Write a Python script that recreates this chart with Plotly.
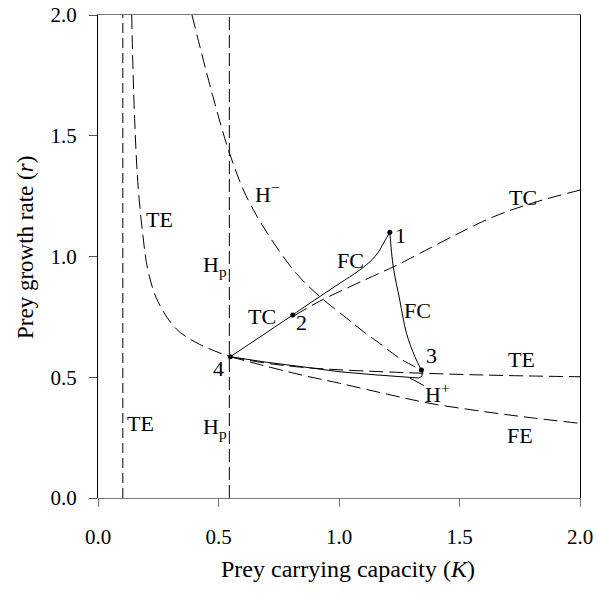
import plotly.graph_objects as go

# ---- data (K = prey carrying capacity, r = prey growth rate) ----
te_vert_K = [0.103, 0.103]
te_vert_r = [0.0, 2.0]

hp_vert_K = [0.545, 0.545]
hp_vert_r = [0.0, 2.0]

te_left_K = [0.140, 0.145, 0.152, 0.165, 0.186, 0.207, 0.248, 0.325, 0.422, 0.549]
te_left_r = [2.000, 1.780, 1.570, 1.310, 1.090, 0.944, 0.815, 0.700, 0.636, 0.585]

te_right_K = [0.549, 0.700, 0.850, 1.000, 1.200, 1.460, 1.700, 2.000]
te_right_r = [0.585, 0.558, 0.541, 0.531, 0.522, 0.513, 0.507, 0.502]

fe_K = [0.549, 0.700, 0.850, 1.003, 1.200, 1.377, 1.600, 1.800, 2.000]
fe_r = [0.585, 0.545, 0.508, 0.475, 0.430, 0.392, 0.358, 0.332, 0.309]

hminus_K = [0.390, 0.477, 0.546, 0.616, 0.712, 0.823, 0.920, 1.031, 1.100, 1.169, 1.252, 1.342]
hminus_r = [2.000, 1.662, 1.427, 1.248, 1.082, 0.930, 0.834, 0.745, 0.690, 0.640, 0.578, 0.530]

tc_dash_K = [0.815, 0.920, 1.210, 1.252, 1.626, 1.805, 2.000]
tc_dash_r = [0.755, 0.815, 0.950, 0.970, 1.158, 1.222, 1.275]

tc_solid_K = [0.549, 0.680, 0.808]
tc_solid_r = [0.585, 0.672, 0.758]

fc_upper_K = [0.808, 0.837, 0.920, 1.000, 1.086, 1.140, 1.169, 1.190, 1.211]
fc_upper_r = [0.758, 0.778, 0.834, 0.887, 0.944, 0.990, 1.027, 1.065, 1.100]

fc_lower_K = [1.211, 1.225, 1.252, 1.280, 1.315, 1.342]
fc_lower_r = [1.100, 0.958, 0.820, 0.682, 0.585, 0.530]

hplus_K = [0.549, 0.700, 0.850, 1.000, 1.150, 1.250, 1.300, 1.330, 1.343, 1.346, 1.342]
hplus_r = [0.585, 0.562, 0.543, 0.523, 0.510, 0.502, 0.498, 0.497, 0.503, 0.516, 0.530]

point_K = [1.211, 0.808, 1.342, 0.549]
point_r = [1.100, 0.758, 0.530, 0.585]

tick_vals = [0.0, 0.5, 1.0, 1.5, 2.0]
tick_text = ["0.0", "0.5", "1.0", "1.5", "2.0"]

FONT = "Liberation Serif, Times New Roman, serif"

fig = go.Figure()

def dashed(K, r, dash="14px,6px", shape="spline"):
    fig.add_trace(go.Scatter(x=K, y=r, mode="lines",
                             line=dict(color="black", width=1, dash=dash, shape=shape),
                             hoverinfo="skip", showlegend=False))

def solid(K, r, shape="spline"):
    fig.add_trace(go.Scatter(x=K, y=r, mode="lines",
                             line=dict(color="black", width=1, shape=shape),
                             hoverinfo="skip", showlegend=False))

dashed(te_vert_K, te_vert_r, dash="10px,5px", shape="linear")
dashed(hp_vert_K, hp_vert_r, dash="13px,5px", shape="linear")
dashed(te_left_K, te_left_r)
dashed(te_right_K, te_right_r)
dashed(fe_K, fe_r)
dashed(hminus_K, hminus_r)
dashed(tc_dash_K, tc_dash_r)
solid(tc_solid_K, tc_solid_r)
solid(fc_upper_K, fc_upper_r)
solid(fc_lower_K, fc_lower_r)
solid(hplus_K, hplus_r, shape="linear")

fig.add_trace(go.Scatter(x=point_K, y=point_r, mode="markers",
                         marker=dict(color="black", size=5),
                         hoverinfo="skip", showlegend=False))

def px2K(px):
    return (px - 98.5) / 240.75

def px2r(py):
    return (498 - py) / 241.5

labels = [
    ("TE", 160, 219),
    ("H<sup>−</sup>", 268, 193),
    ("H<sub>p</sub>", 215, 266),
    ("FC", 351, 260),
    ("1", 401, 235),
    ("FC", 418, 310),
    ("3", 432, 355),
    ("TC", 262, 316),
    ("2", 302, 322),
    ("4", 219, 368),
    ("TC", 523, 197),
    ("TE", 522, 359),
    ("FE", 520, 435),
    ("TE", 141, 423),
    ("H<sub>p</sub>", 215, 428),
]
for text, px, py in labels:
    fig.add_annotation(x=px2K(px), y=px2r(py), text=text, showarrow=False,
                       xanchor="center", yanchor="middle",
                       font=dict(family=FONT, size=22, color="black"))

# H+ label with leader line
fig.add_annotation(x=px2K(410), y=px2r(378), text="H<sup>+</sup>",
                   showarrow=True, arrowhead=0, arrowwidth=1, arrowcolor="black",
                   ax=28, ay=15, font=dict(family=FONT, size=22, color="black"))

# axis titles
fig.add_annotation(xref="paper", yref="paper", x=(347.5 - 98) / 482, y=(498 - 569) / 483,
                   text="Prey carrying capacity (<i>K</i>)", showarrow=False,
                   xanchor="center", yanchor="middle",
                   font=dict(family=FONT, size=24, color="black"))
fig.add_annotation(xref="paper", yref="paper", x=(25 - 98) / 482, y=(498 - 248) / 483,
                   text="Prey growth rate (<i>r</i>)", showarrow=False, textangle=-90,
                   xanchor="center", yanchor="middle",
                   font=dict(family=FONT, size=23, color="black"))

axis_common = dict(range=[0, 2], tickvals=tick_vals, ticktext=tick_text,
                   ticks="outside", ticklen=8, tickwidth=1,
                   showgrid=False, zeroline=False, showline=True, mirror=True,
                   linewidth=1, automargin=False,
                   tickfont=dict(family=FONT, size=21, color="black"))

fig.update_xaxes(**axis_common, linecolor="#777777", tickcolor="#777777",
                 ticklabelstandoff=12)
fig.update_yaxes(**axis_common, linecolor="black", tickcolor="#555555",
                 ticklabelstandoff=8)

fig.update_layout(width=597, height=593,
                  margin=dict(l=98, r=17, t=15, b=95),
                  plot_bgcolor="white", paper_bgcolor="white",
                  showlegend=False)

fig.write_html("out.html")
